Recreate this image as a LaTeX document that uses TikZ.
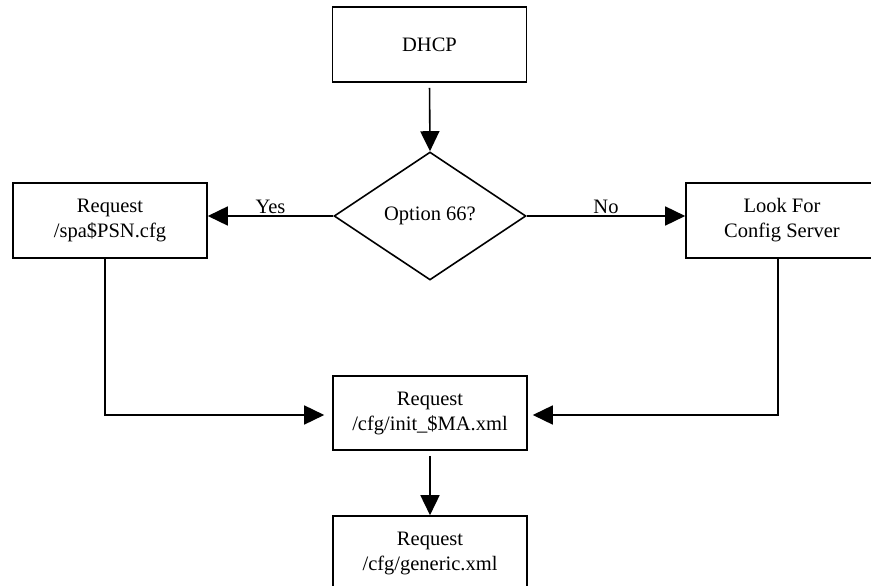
\documentclass[tikz,border=0pt]{standalone}
\usepackage{fontspec}
\setmainfont{Liberation Serif}
\usetikzlibrary{arrows.meta,shapes.geometric}
\tikzset{
  box/.style={draw, line width=1.6pt, minimum width=194pt, minimum height=75pt, align=center, inner sep=0pt, font=\fontsize{20.5}{25}\selectfont},
  decision/.style={draw, diamond, line width=1.6pt, minimum width=192pt, minimum height=128pt, inner sep=0pt, font=\fontsize{20.5}{25}\selectfont},
  arr/.style={line width=1.6pt, -{Triangle[length=20pt,width=19pt]}},
  lbl/.style={font=\fontsize{20.5}{25}\selectfont, inner sep=2pt}
}
\begin{document}
\begin{tikzpicture}[x=1pt,y=-1pt]
\useasboundingbox (0,0) rectangle (871,586);
\clip (0,0) rectangle (871,586);
\node[box] (dhcp) at (429.5,44.5) {DHCP};
\node[decision] (q) at (430,216) {Option 66?};
\node[box] (spa) at (110,220.5) {Request\\/spa\$PSN.cfg};
\node[box, minimum width=192pt] (look) at (782,220.5) {Look For\\Config Server};
\node[box, minimum height=74pt] (mid) at (430,413) {Request\\/cfg/init\_\$MA.xml};
\node[box] (gen) at (430,553.5) {Request\\/cfg/generic.xml};
\draw[arr, shorten <=5pt] (dhcp.south) -- (q.north);
\draw[arr] (q.west) -- (q.west -| spa.east) node[lbl, midway, above] {Yes};
\draw[arr] (q.east) -- (q.east -| look.west) node[lbl, midway, above] {No};
\draw[arr, shorten >=8pt] ([xshift=-5pt]spa.south) |- ([yshift=-2pt]mid.west);
\draw[arr, shorten >=5pt] ([xshift=-4pt]look.south) |- ([yshift=-2pt]mid.east);
\draw[arr, shorten <=5pt] (mid.south) -- (gen.north);
\end{tikzpicture}
\end{document}
